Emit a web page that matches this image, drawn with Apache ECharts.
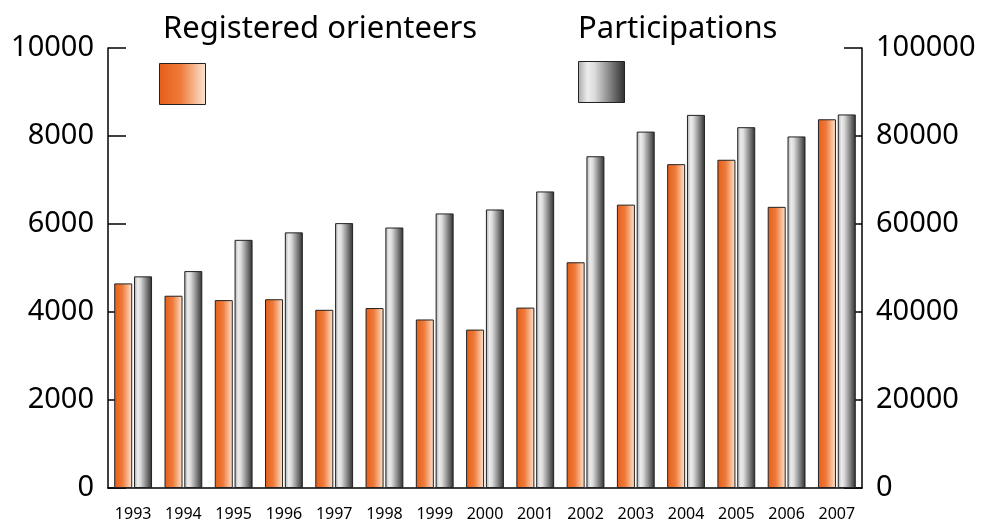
<!DOCTYPE html>
<html>
<head>
<meta charset="utf-8">
<script src="https://cdn.jsdelivr.net/npm/echarts@6/dist/echarts.min.js"></script>
<style>
  html, body { margin: 0; padding: 0; background: #fff; }
  #chart { width: 984px; height: 522px; }
</style>
</head>
<body>
<div id="chart"></div>
<script>
// values
const years = ['1993', '1994', '1995', '1996', '1997', '1998', '1999', '2000',
  '2001', '2002', '2003', '2004', '2005', '2006', '2007']
const orienteers = [4650, 4370, 4270, 4290, 4050, 4090, 3830, 3600, 4100, 5130, 6440, 7360, 7460, 6390, 8380]
const participations = [48100, 49300, 56400, 58100, 60200, 59200, 62400, 63300, 67400, 75400, 81000, 84800, 82000, 79900, 84900]

const FONT = 'Noto Sans'

const orangeFill = new echarts.graphic.LinearGradient(0, 0, 1, 0, [
  { offset: 0, color: '#e65e17' },
  { offset: 0.45, color: '#ee7a3a' },
  { offset: 1, color: '#fde6d2' }
])
const grayFill = new echarts.graphic.LinearGradient(0, 0, 1, 0, [
  { offset: 0, color: '#a9a9a9' },
  { offset: 0.2, color: '#ececec' },
  { offset: 0.35, color: '#dcdcdc' },
  { offset: 1, color: '#2e2e2e' }
])

const axisLine = { lineStyle: { color: '#000', width: 1.5 } }
const plain = v => String(v)

const option = {
  backgroundColor: '#fff',
  animation: false,
  title: [
    {
      text: 'Registered orienteers',
      left: 158,
      top: 9,
      textStyle: { fontFamily: FONT, fontWeight: 'normal', fontSize: 31, color: '#000' }
    },
    {
      text: 'Participations',
      left: 573,
      top: 9,
      textStyle: { fontFamily: FONT, fontWeight: 'normal', fontSize: 31, color: '#000' }
    }
  ],
  legend: [
    {
      data: [{ name: 'Registered orienteers', icon: 'rect', itemStyle: { color: orangeFill, borderColor: '#222', borderWidth: 1 } }],
      left: 159,
      top: 63,
      padding: 0,
      itemWidth: 46,
      itemHeight: 41,
      formatter: () => '',
      selectedMode: false
    },
    {
      data: [{ name: 'Participations', icon: 'rect', itemStyle: { color: grayFill, borderColor: '#222', borderWidth: 1 } }],
      left: 578,
      top: 61,
      padding: 0,
      itemWidth: 46,
      itemHeight: 41,
      formatter: () => '',
      selectedMode: false
    }
  ],
  grid: { left: 108, right: 122, top: 48, bottom: 34 },
  xAxis: {
    type: 'category',
    data: years,
    axisLine: axisLine,
    axisTick: { inside: true, length: 10, lineStyle: { color: '#000', width: 1.5 } },
    axisLabel: { fontFamily: FONT, fontSize: 16, color: '#000', margin: 18, interval: 0 }
  },
  yAxis: [
    {
      type: 'value',
      min: 0,
      max: 10000,
      interval: 2000,
      position: 'left',
      splitLine: { show: false },
      axisLine: Object.assign({ show: true }, axisLine),
      axisTick: { show: true, inside: true, length: 18, lineStyle: { color: '#000', width: 1.5 } },
      axisLabel: { fontFamily: FONT, fontSize: 29, color: '#000', margin: 14, formatter: plain }
    },
    {
      type: 'value',
      min: 0,
      max: 100000,
      interval: 20000,
      position: 'right',
      splitLine: { show: false },
      axisLine: Object.assign({ show: true }, axisLine),
      axisTick: { show: true, inside: true, length: 18, lineStyle: { color: '#000', width: 1.5 } },
      axisLabel: { fontFamily: FONT, fontSize: 29, color: '#000', margin: 14, formatter: plain }
    }
  ],
  series: [
    {
      name: 'Registered orienteers',
      type: 'bar',
      yAxisIndex: 0,
      barWidth: 18,
      barGap: '10%',
      itemStyle: { color: orangeFill, borderColor: '#222', borderWidth: 1 },
      data: orienteers
    },
    {
      name: 'Participations',
      type: 'bar',
      yAxisIndex: 1,
      barWidth: 18,
      barGap: '10%',
      itemStyle: { color: grayFill, borderColor: '#222', borderWidth: 1 },
      data: participations
    }
  ]
}

const chart = echarts.init(document.getElementById('chart'))
chart.setOption(option)
</script>
</body>
</html>
